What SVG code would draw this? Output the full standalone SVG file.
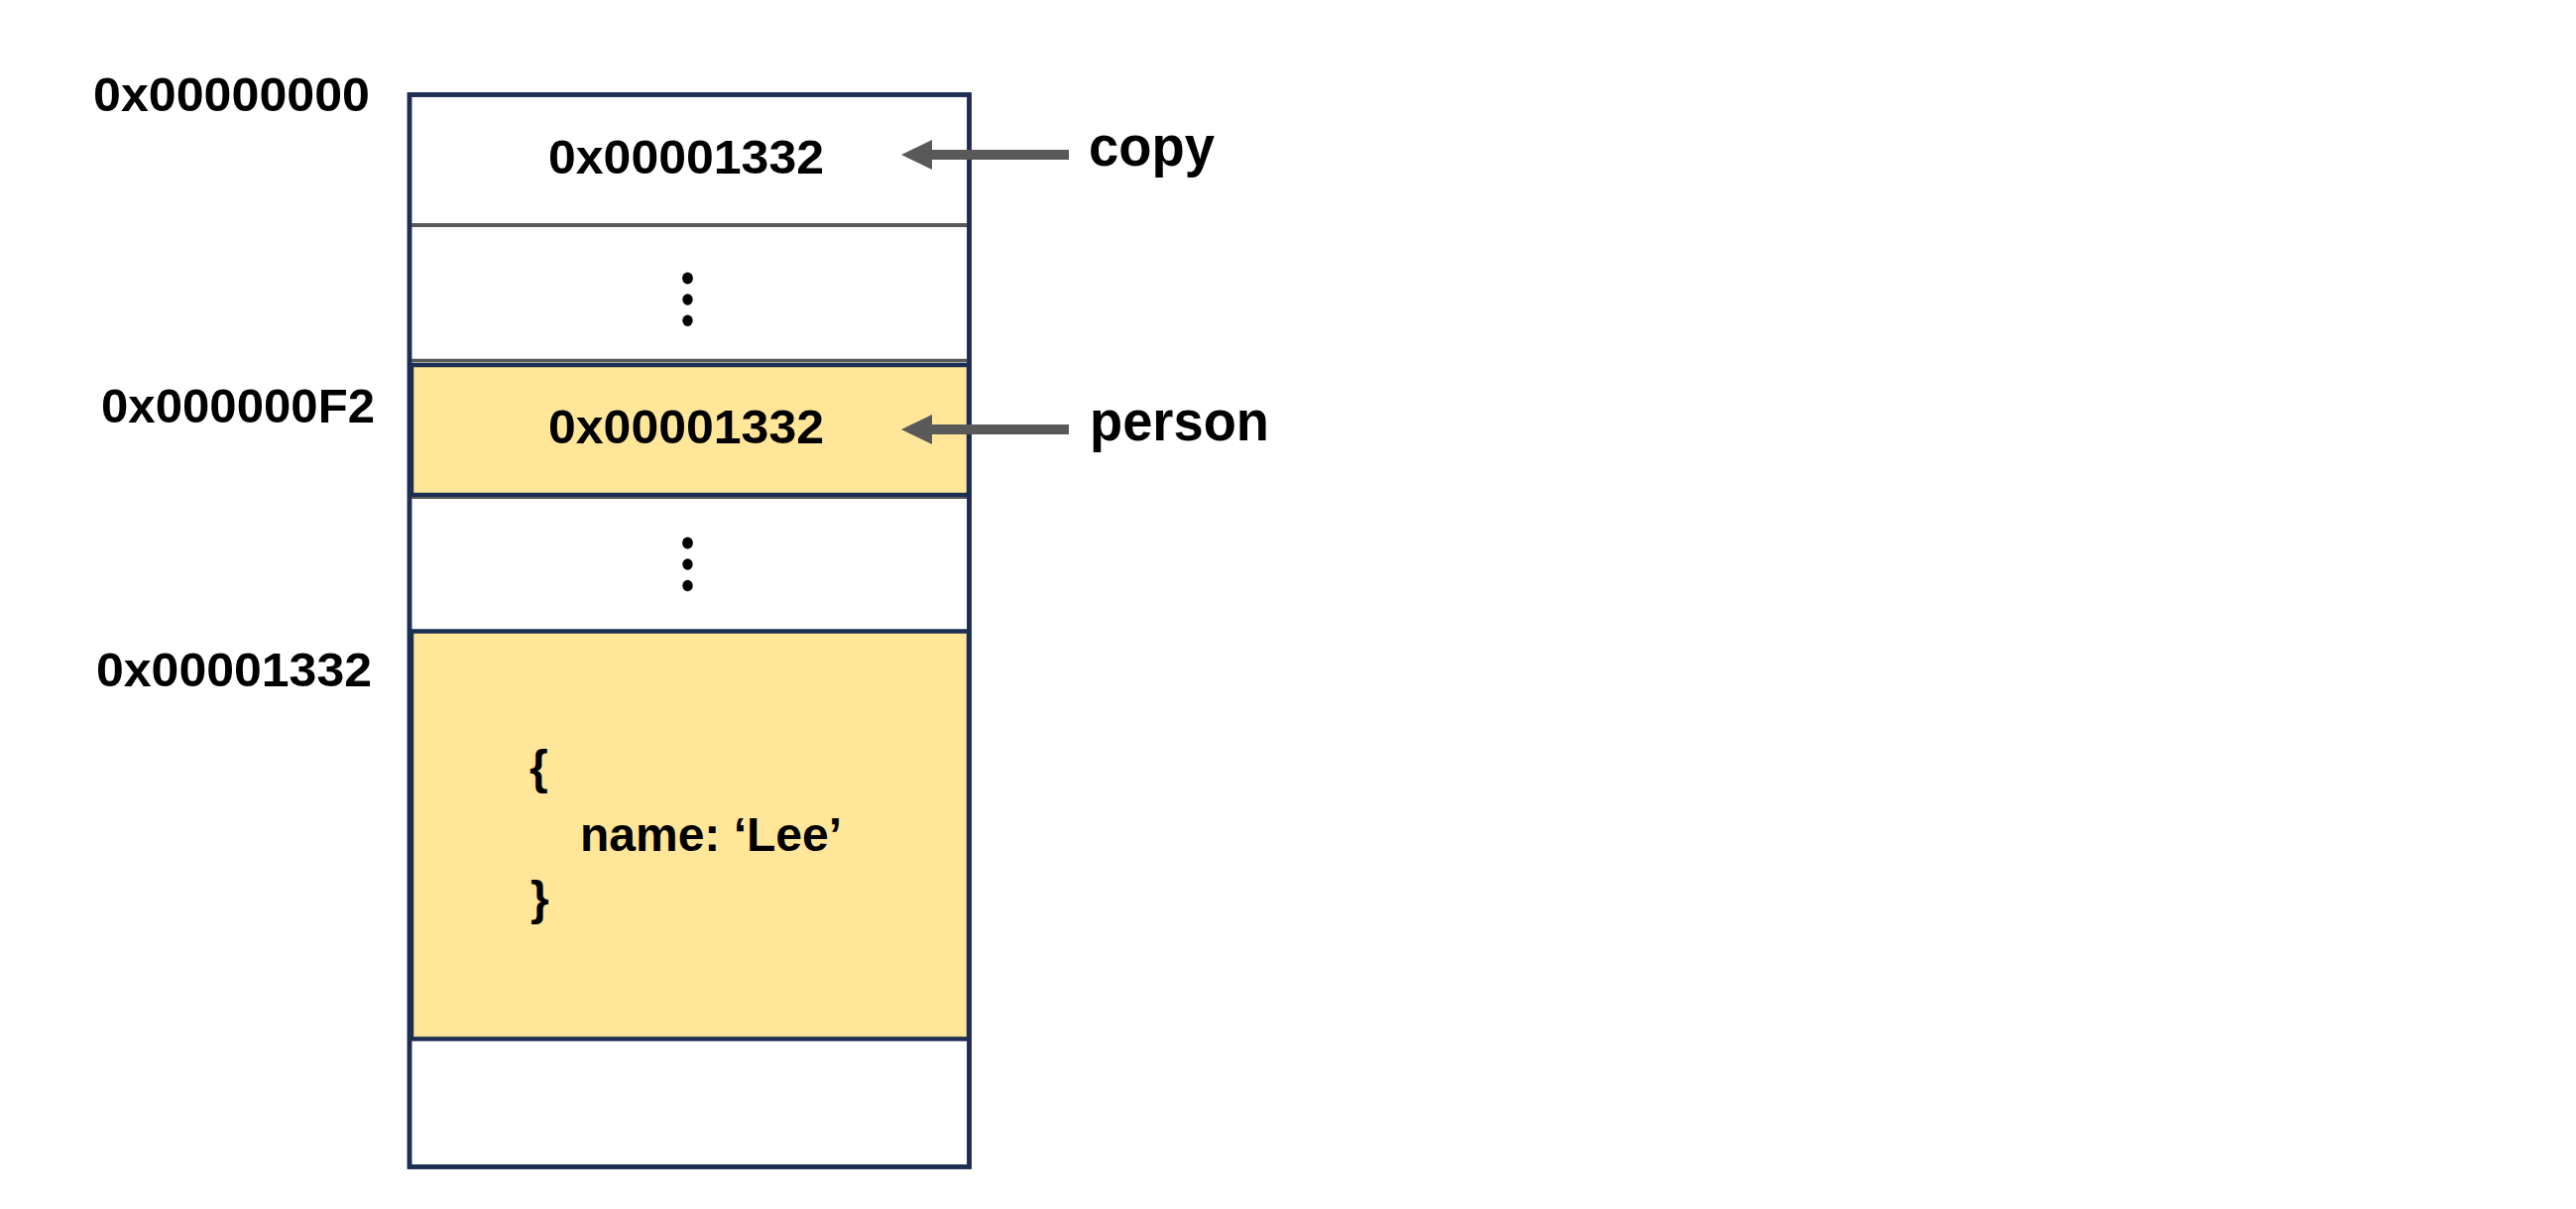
<svg xmlns="http://www.w3.org/2000/svg" width="2598" height="1219" viewBox="0 0 2598 1219">
  <style>
    .t { font-family: "Liberation Sans", Arial, sans-serif; font-weight: bold; fill: #000; }
    .addr { font-size: 47.5px; }
    .val { font-size: 49px; }
    .obj { font-size: 48px; }
    .var { font-size: 58px; }
    .navy { stroke: #1C2E52; }
    .gray { stroke: #595959; }
    .cellY { fill: #FFE699; stroke: #1C2E52; stroke-width: 4.5; }
    .arrow { stroke: #595959; stroke-width: 10; fill: none; marker-end: url(#head); }
    .dot { fill: #000; }
  </style>
  <defs>
    <marker id="head" markerUnits="userSpaceOnUse" markerWidth="31" markerHeight="30" refX="0" refY="15" orient="auto" viewBox="0 0 31 30">
      <path d="M0,0 L31,15 L0,30 Z" fill="#595959"/>
    </marker>
  </defs>
  <rect width="2598" height="1219" fill="#FFFFFF"/>

  <g id="memory">
    <rect x="413" y="95.5" width="564.5" height="1081" fill="#FFFFFF" class="navy" stroke-width="4.5"/>
  </g>

  <g id="cell-copy">
    <line x1="413" y1="227" x2="977" y2="227" class="gray" stroke-width="4"/>
    <text class="t val" x="553" y="175" textLength="278" lengthAdjust="spacingAndGlyphs">0x00001332</text>
  </g>

  <g id="cell-gap1">
    <ellipse class="dot" cx="693.5" cy="280.5" rx="5.4" ry="5.9"/>
    <ellipse class="dot" cx="693.5" cy="302" rx="5.2" ry="5.7"/>
    <ellipse class="dot" cx="693.5" cy="323.3" rx="5.2" ry="5.7"/>
    <line x1="413" y1="363.5" x2="977" y2="363.5" class="gray" stroke-width="3.5"/>
  </g>

  <g id="cell-person">
    <rect x="415" y="368" width="562" height="131" class="cellY"/>
    <line x1="415" y1="502" x2="977" y2="502" class="gray" stroke-width="2"/>
    <text class="t val" x="553" y="447" textLength="278" lengthAdjust="spacingAndGlyphs">0x00001332</text>
  </g>

  <g id="cell-gap2">
    <ellipse class="dot" cx="693.5" cy="547.5" rx="5.4" ry="5.9"/>
    <ellipse class="dot" cx="693.5" cy="569" rx="5.2" ry="5.7"/>
    <ellipse class="dot" cx="693.5" cy="590.5" rx="5.2" ry="5.7"/>
  </g>

  <g id="cell-object">
    <rect x="415" y="636.5" width="562" height="411" class="cellY"/>
    <text class="t obj" x="534" y="790">{</text>
    <text class="t obj" x="585" y="858" textLength="264" lengthAdjust="spacingAndGlyphs">name: ‘Lee’</text>
    <text class="t obj" x="535" y="922">}</text>
  </g>

  <g id="memory-border">
    <rect x="413" y="95.5" width="564.5" height="1081" fill="none" class="navy" stroke-width="4.5"/>
  </g>

  <g id="addr-labels">
    <text class="t addr" x="94" y="112" textLength="279" lengthAdjust="spacingAndGlyphs">0x00000000</text>
    <text class="t addr" x="102" y="426" textLength="276" lengthAdjust="spacingAndGlyphs">0x000000F2</text>
    <text class="t addr" x="97" y="692" textLength="278" lengthAdjust="spacingAndGlyphs">0x00001332</text>
  </g>

  <g id="var-copy">
    <text class="t var" x="1098" y="167" textLength="127" lengthAdjust="spacingAndGlyphs">copy</text>
  </g>
  <g id="var-person">
    <text class="t var" x="1099" y="444" textLength="181" lengthAdjust="spacingAndGlyphs">person</text>
  </g>

  <g id="connectors">
    <line class="arrow" x1="1078" y1="156" x2="940" y2="156"/>
    <line class="arrow" x1="1078" y1="433" x2="940" y2="433"/>
  </g>
</svg>
